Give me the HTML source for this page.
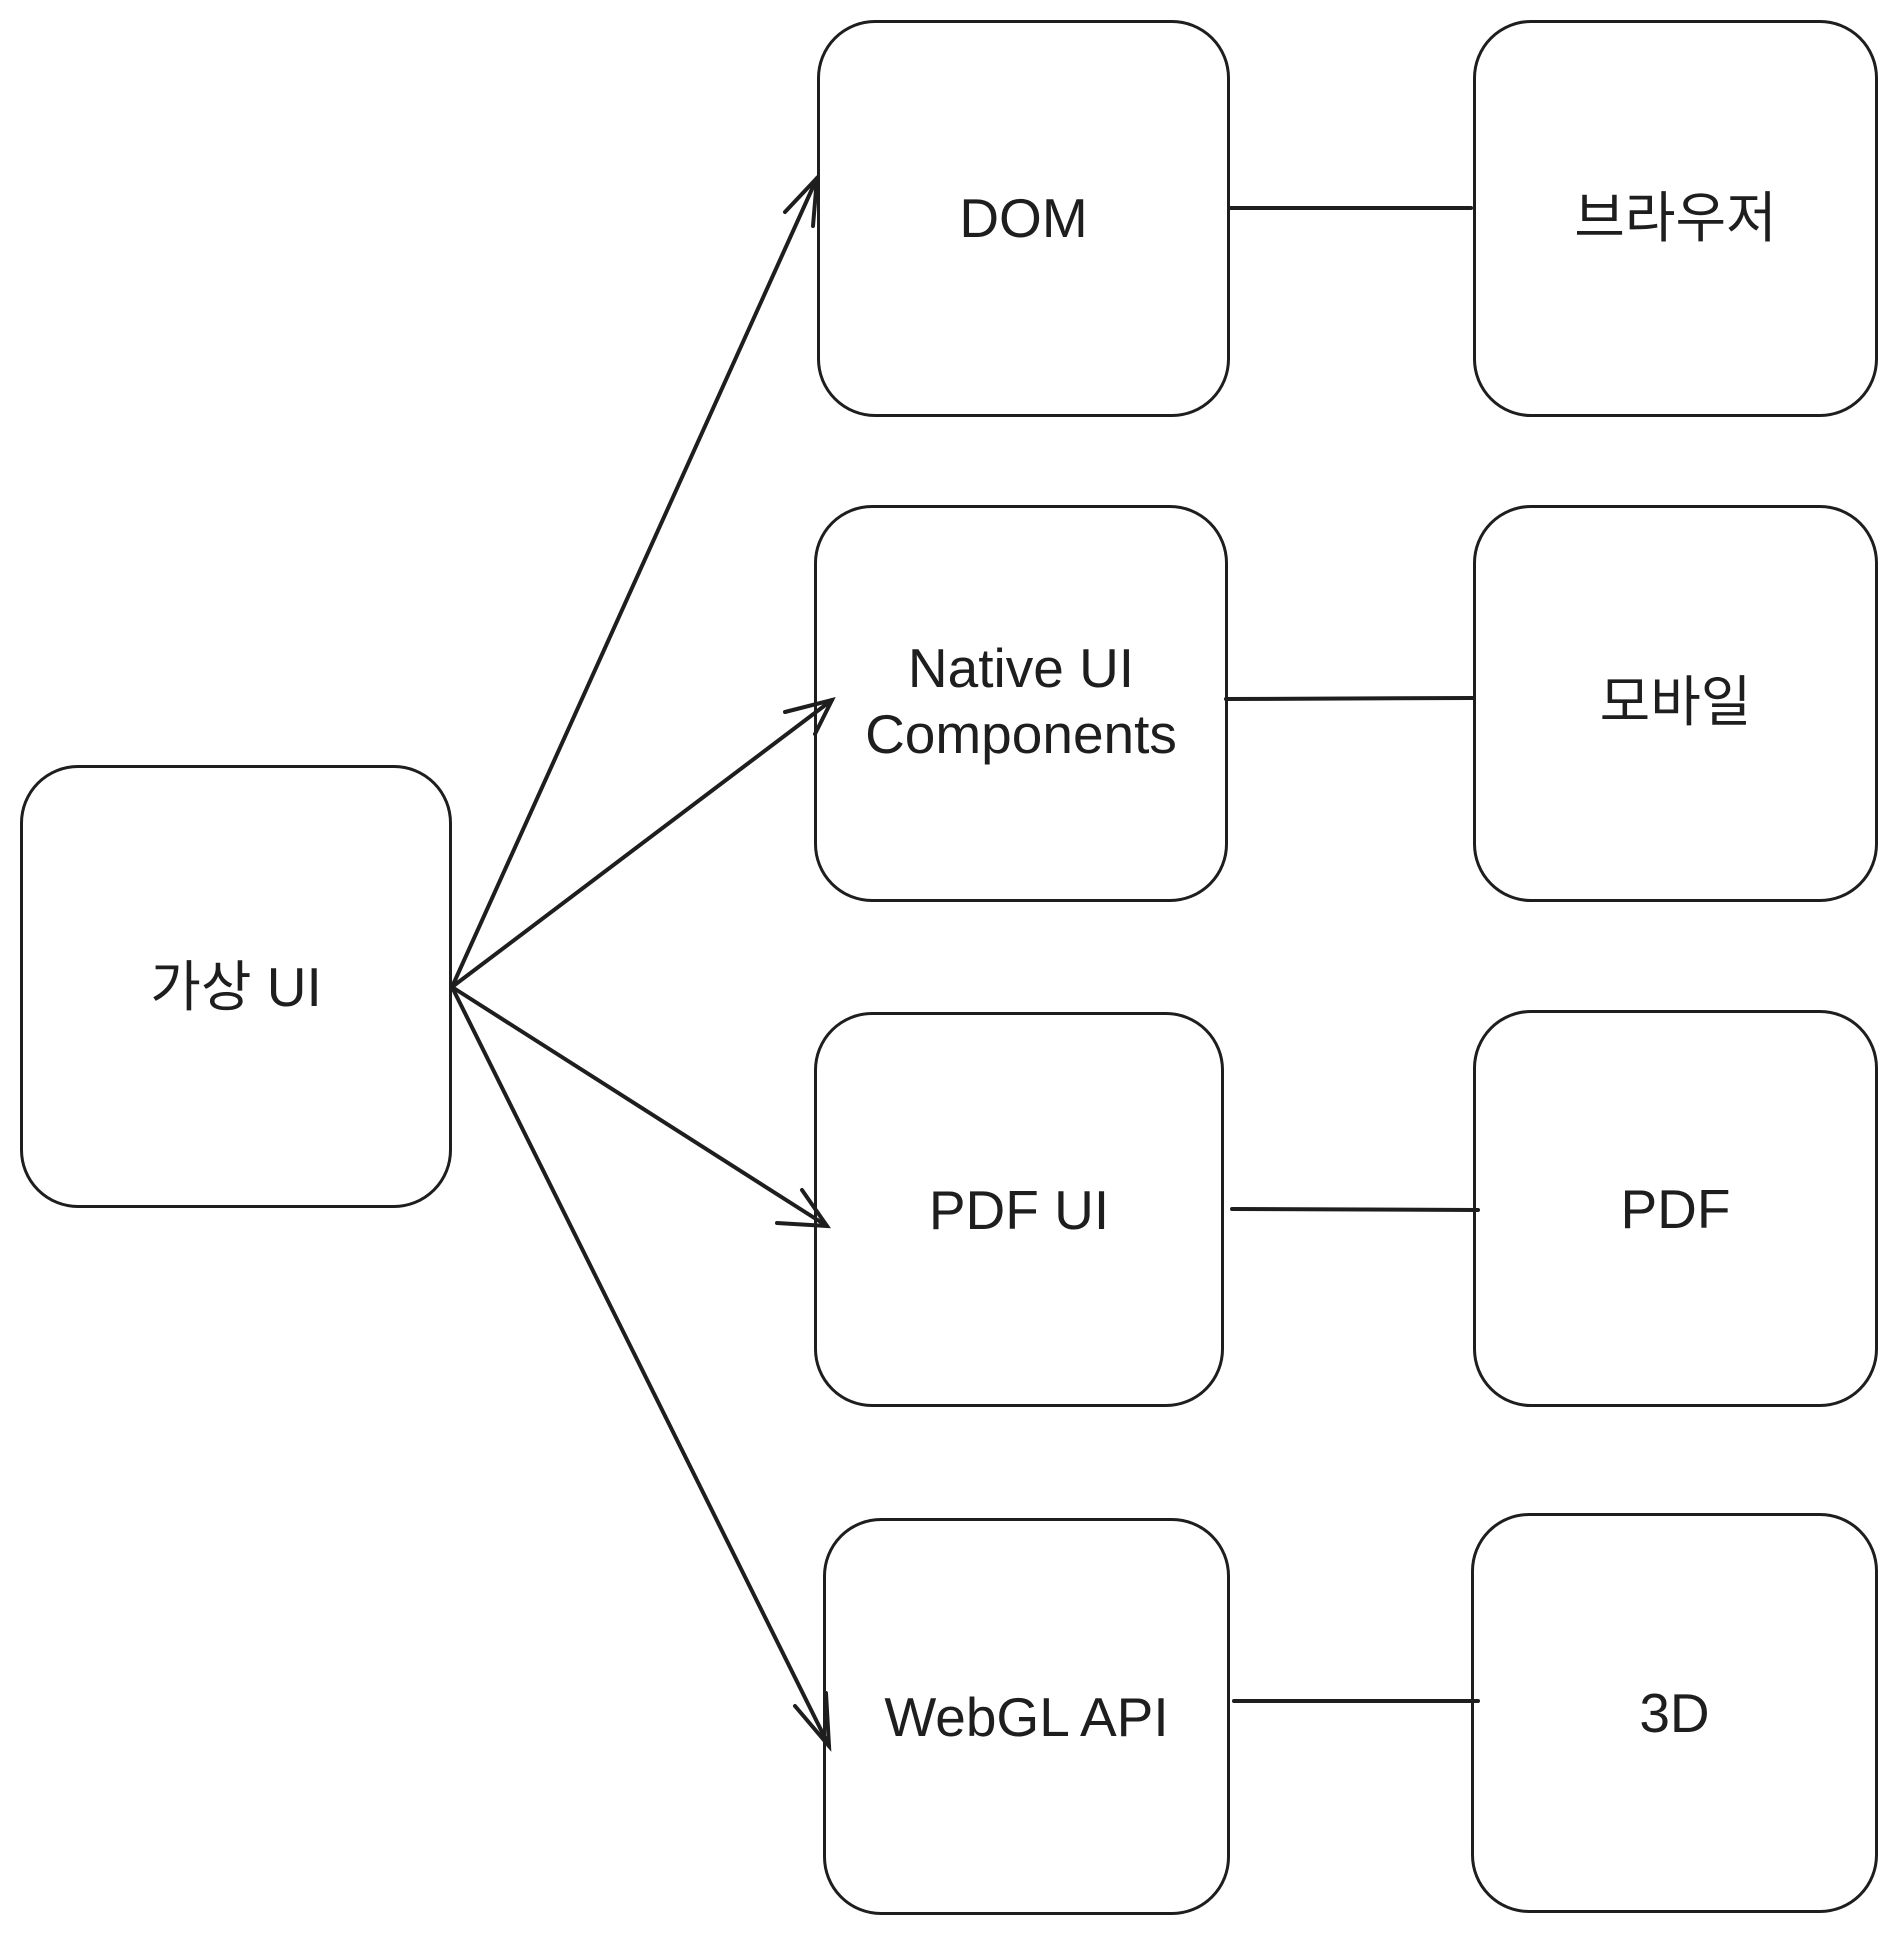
<!DOCTYPE html>
<html><head><meta charset="utf-8"><style>
body{margin:0;background:#fff;width:1898px;height:1934px;overflow:hidden;position:relative;font-family:"Liberation Sans","Noto Sans CJK KR",sans-serif;color:#1e1e1e}
.b{position:absolute;border:3.5px solid #1e1e1e;border-radius:58px;box-sizing:border-box;display:flex;align-items:center;justify-content:center;text-align:center;font-size:55px;line-height:1.2}
svg{position:absolute;left:0;top:0}
</style></head><body>
<svg width="1898" height="1934" stroke="#1e1e1e" stroke-width="4" fill="none" stroke-linecap="round">
<line x1="1230" y1="208" x2="1471" y2="208"/>
<line x1="1226" y1="699" x2="1473" y2="698"/>
<line x1="1232" y1="1209" x2="1478" y2="1210"/>
<line x1="1234" y1="1701" x2="1478" y2="1701"/>
<line x1="452" y1="987" x2="817" y2="178"/>
<path d="M785 212 L817 178 L813 226"/>
<line x1="452" y1="987" x2="832" y2="700"/>
<path d="M785 712 L832 700 L815 734"/>
<line x1="452" y1="987" x2="827" y2="1226"/>
<path d="M777 1223 L827 1226 L802 1190"/>
<line x1="452" y1="987" x2="829" y2="1746"/>
<path d="M795 1706 L829 1746 L826 1693"/>
</svg>
<div class="b" style="left:20px;top:765px;width:432px;height:443px">가상 UI</div>
<div class="b" style="left:817px;top:20px;width:413px;height:397px;padding-bottom:2px">DOM</div>
<div class="b" style="left:1473px;top:20px;width:405px;height:397px;padding-bottom:2px">브라우저</div>
<div class="b" style="left:814px;top:505px;width:414px;height:397px;padding-bottom:5px">Native UI<br>Components</div>
<div class="b" style="left:1473px;top:505px;width:405px;height:397px;padding-bottom:4px">모바일</div>
<div class="b" style="left:814px;top:1012px;width:410px;height:395px">PDF UI</div>
<div class="b" style="left:1473px;top:1010px;width:405px;height:397px">PDF</div>
<div class="b" style="left:823px;top:1518px;width:407px;height:397px">WebGL API</div>
<div class="b" style="left:1471px;top:1513px;width:407px;height:400px">3D</div>
</body></html>
